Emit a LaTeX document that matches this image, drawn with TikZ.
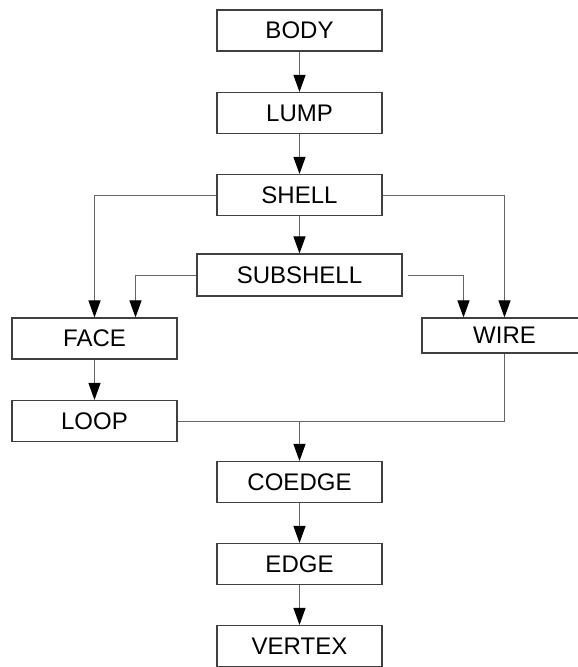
\documentclass[tikz,border=0pt]{standalone}
\usepackage{fontspec}
\setmainfont{Liberation Sans}
\usetikzlibrary{arrows.meta}

\begin{document}
\begin{tikzpicture}[x=1pt,y=-1pt,
    box/.style={draw=black!75,line width=1.1pt,minimum width=165pt,minimum height=41pt,
      inner sep=0pt,font=\fontsize{24}{28}\selectfont},
    wireline/.style={draw=black!60,line width=1pt},
    link/.style={wireline,-{Triangle[length=17pt,width=12pt,color=black]}}]
  \clip (0,0) rectangle (578,667);
  % entity boxes
  \node[box] (body) at (299.5,30.5) {BODY};
  \node[box] (lump) at (299.5,113) {LUMP};
  \node[box] (shell) at (299.5,195) {SHELL};
  \node[box,minimum width=205pt,minimum height=42pt] (subshell) at (299.5,275) {SUBSHELL};
  \node[box] (face) at (94.5,338.5) {FACE};
  \node[box,minimum height=35pt] (wire) at (504.5,335.5) {WIRE};
  \node[box] (loop) at (94.5,421) {LOOP};
  \node[box] (coedge) at (299.5,482) {COEDGE};
  \node[box] (edge) at (299.5,564) {EDGE};
  \node[box] (vertex) at (299.5,646) {VERTEX};
  % links
  \draw[link] (body) -- (lump);
  \draw[link] (lump) -- (shell);
  \draw[link] (shell) -- (subshell);
  \draw[link] (shell.west) -| (face.north);
  \draw[link] (shell.east) -| (wire.north);
  \draw[link] (subshell.west) -| ([xshift=41pt]face.north);
  \draw[link] ([xshift=5pt]subshell.east) -| ([xshift=-41pt]wire.north);
  \draw[link] (face) -- (loop);
  % wire and loop join above coedge
  \draw[wireline] (wire.south) |- (loop.east);
  \coordinate (join) at (coedge.north |- loop.east);
  \draw[link] (join) -- (coedge);
  \draw[link] (coedge) -- (edge);
  \draw[link] (edge) -- (vertex);
\end{tikzpicture}
\end{document}
